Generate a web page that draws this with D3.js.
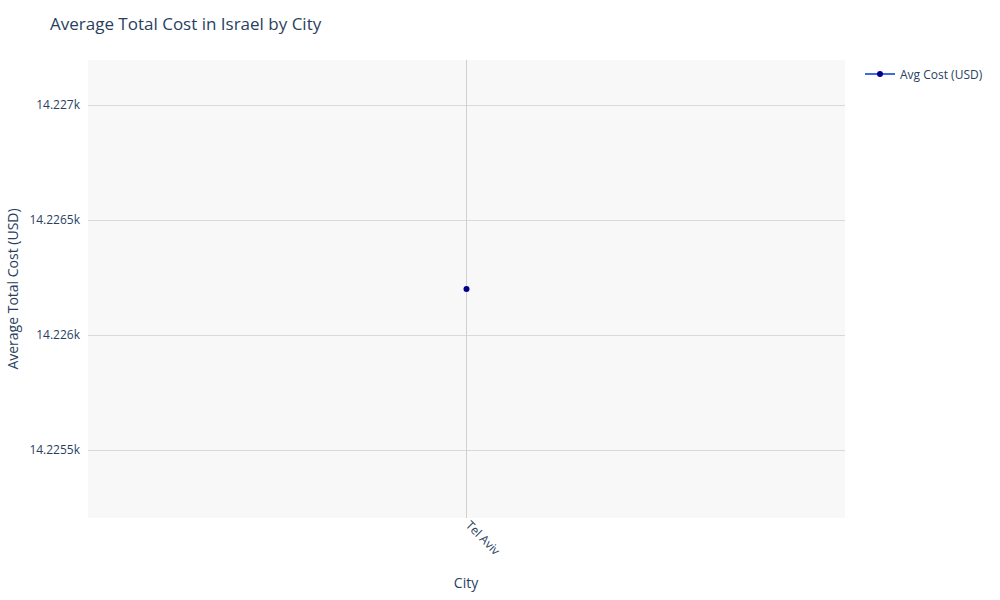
<!DOCTYPE html>
<html><head><meta charset="utf-8">
<script src="https://cdn.jsdelivr.net/npm/d3@7"></script>
<style>body{margin:0;background:#fff;font-family:"Open Sans",sans-serif}</style>
</head><body><svg id="c" width="1000" height="600"></svg>
<script>
const cities = ["Tel Aviv"];
const avgCost = [14226.2];
const yTicks = [14225.5, 14226, 14226.5, 14227];
const yTickLabels = ["14.2255k", "14.226k", "14.2265k", "14.227k"];

const svg = d3.select("#c");
const m = {l: 88, r: 845, t: 60, b: 518};
const txt = "#2a3f5f";
svg.append("rect").attr("x", m.l).attr("y", m.t).attr("width", m.r - m.l).attr("height", m.b - m.t).attr("fill", "#f8f8f8");
const x = d3.scalePoint().domain(cities).range([m.l, m.r]).padding(0.5);
const y = d3.scaleLinear().domain([14225.2043, 14227.1957]).range([m.b, m.t]);

const gy = svg.append("g").attr("transform", `translate(${m.l},0)`)
  .call(d3.axisLeft(y).tickValues(yTicks).tickSize(-(m.r - m.l)).tickPadding(8).tickFormat((d, i) => yTickLabels[i]));
gy.select(".domain").remove();
gy.selectAll("line").attr("stroke", "#d9d9d9");
gy.selectAll("text").attr("fill", txt).style("font-size", "12px").style("font-family", "Open Sans");

const gx = svg.append("g").attr("transform", `translate(0,${m.b})`)
  .call(d3.axisBottom(x).tickSize(0).tickPadding(0));
gx.select(".domain").remove();
gx.selectAll("text").attr("fill", txt).style("font-size", "12px").style("font-family", "Open Sans")
  .attr("text-anchor", "start").attr("dy", 0).attr("transform", "translate(-2,8) rotate(45)");
svg.append("g").selectAll("line").data(cities).join("line")
  .attr("x1", d => x(d)).attr("x2", d => x(d)).attr("y1", m.t).attr("y2", m.b).attr("stroke", "#d0d0d0");

svg.selectAll("circle.pt").data(cities).join("circle").attr("class", "pt")
  .attr("cx", d => x(d)).attr("cy", (d, i) => y(avgCost[i])).attr("r", 3).attr("fill", "#00008b");

svg.append("text").attr("x", 50).attr("y", 30).attr("fill", txt).style("font-size", "17px").text("Average Total Cost in Israel by City");
svg.append("text").attr("x", 466).attr("y", 588).attr("text-anchor", "middle").attr("fill", txt).style("font-size", "14px").text("City");
svg.append("text").attr("transform", "translate(18,289) rotate(-90)").attr("text-anchor", "middle").attr("fill", txt).style("font-size", "14px").text("Average Total Cost (USD)");

const lg = svg.append("g").attr("transform", "translate(865,74)");
lg.append("line").attr("x1", 0).attr("x2", 30).attr("stroke", "#4169e1").attr("stroke-width", 2);
lg.append("circle").attr("cx", 15).attr("r", 3).attr("fill", "#00008b");
lg.append("text").attr("x", 35).attr("y", 4.5).attr("fill", txt).style("font-size", "12px").text("Avg Cost (USD)");
</script></body></html>
